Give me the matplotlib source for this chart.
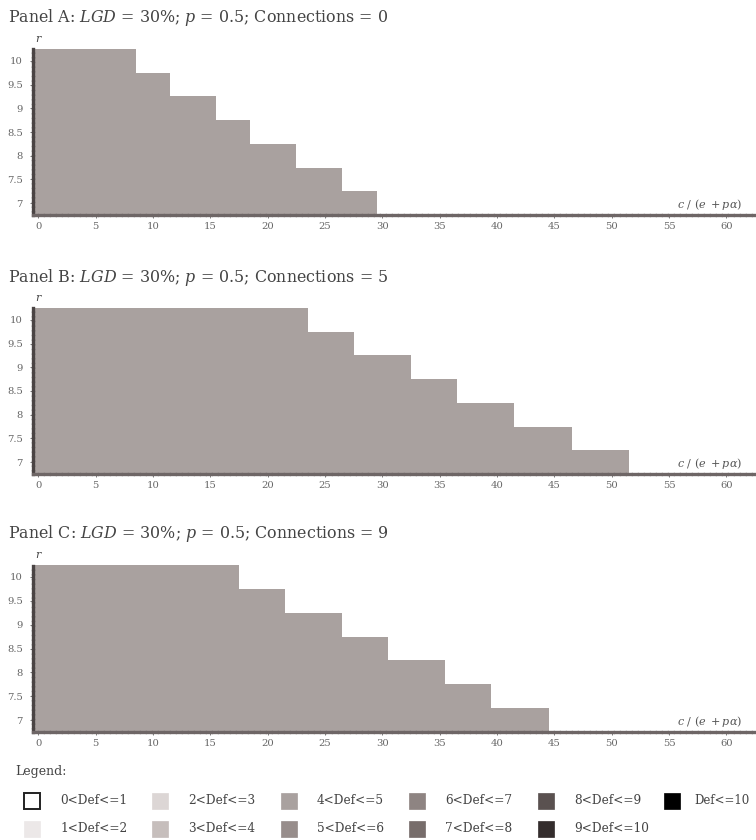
import numpy as np
import matplotlib
matplotlib.use("Agg")
import matplotlib.pyplot as plt
from matplotlib.colors import ListedColormap, BoundaryNorm
from matplotlib.patches import Rectangle

plt.rcParams["font.family"] = ["DejaVu Serif", "Liberation Serif"]
plt.rcParams["mathtext.fontset"] = "dejavuserif"

# Grid of the simulation: r levels and c/(e+p*alpha) values
r_levels = [10, 9.5, 9, 8.5, 8, 7.5, 7]
x_values = np.arange(0, 63)

# Last x value (per r level, top to bottom) where contagion reaches the filled class
panel_titles = [
    r"Panel A: $LGD$ = 30%; $p$ = 0.5; Connections = 0",
    r"Panel B: $LGD$ = 30%; $p$ = 0.5; Connections = 5",
    r"Panel C: $LGD$ = 30%; $p$ = 0.5; Connections = 9",
]
cutoff_A = [8, 11, 15, 18, 22, 26, 29]
cutoff_B = [23, 27, 32, 36, 41, 46, 51]
cutoff_C = [17, 21, 26, 30, 35, 39, 44]
panel_cutoffs = [cutoff_A, cutoff_B, cutoff_C]

# Default classes: index of the class inside / outside the stepped region
inside_class = 4
outside_class = 0

class_labels = ["0<Def<=1", "1<Def<=2", "2<Def<=3", "3<Def<=4", "4<Def<=5",
                "5<Def<=6", "6<Def<=7", "7<Def<=8", "8<Def<=9", "9<Def<=10",
                "Def<=10"]
class_colors = ["#ffffff", "#ece8e8", "#dcd6d5", "#c6bebc", "#a9a19f",
                "#978d8b", "#8e8482", "#776d6b", "#5a5150", "#342d2d",
                "#000000"]

cmap = ListedColormap(class_colors)
norm = BoundaryNorm(np.arange(-0.5, len(class_colors) + 0.5, 1), cmap.N)

W, H = 756, 840
fig = plt.figure(figsize=(W / 100, H / 100), dpi=100)

def px_axes(left, top, right, bottom):
    return fig.add_axes([left / W, 1 - bottom / H, (right - left) / W, (bottom - top) / H])

axes_px = [(32.5, 49, 760, 215), (32.5, 308, 760, 474), (32.5, 565, 760, 732)]
title_y = [17, 277, 533]

x_edges = np.arange(-0.5, x_values[-1] + 1.5, 1)
r_sorted = sorted(r_levels)
r_edges = np.array([r_sorted[0] - 0.25] + [v + 0.25 for v in r_sorted])

for (l, t, r, b), ty, title, cut in zip(axes_px, title_y, panel_titles, panel_cutoffs):
    ax = px_axes(l, t, r, b)
    grid = np.full((len(r_sorted), len(x_values)), outside_class)
    for lvl, last in zip(r_levels, cut):
        row = r_sorted.index(lvl)
        grid[row, x_values <= last] = inside_class
    ax.pcolormesh(x_edges, r_edges, grid, cmap=cmap, norm=norm, shading="flat")
    ax.set_xlim(-0.5, -0.5 + (r - l) / 11.47)
    ax.set_ylim(r_edges[0], r_edges[-1])
    ax.set_xticks(np.arange(0, 61, 5))
    ax.set_yticks(r_sorted)
    ax.set_yticklabels([f"{v:g}" for v in r_sorted])
    for s in ("top", "right"):
        ax.spines[s].set_visible(False)
    ax.spines["left"].set_linestyle((0, (0.8, 0.6)))
    ax.spines["left"].set_linewidth(2.4)
    ax.spines["left"].set_color("#4a4444")
    ax.spines["bottom"].set_linestyle((0, (1.1, 0.7)))
    ax.spines["bottom"].set_linewidth(2.4)
    ax.spines["bottom"].set_color("#6e6666")
    ax.tick_params(axis="both", labelsize=7.2, colors="#666666", length=2, width=0.6, pad=2)
    ax.tick_params(axis="x", pad=3)
    ax.tick_params(axis="y", pad=5)
    fig.text(8 / W, 1 - ty / H, title, fontsize=11.4, color="#444444", va="center", ha="left")
    ax.text(0.0, r_edges[-1] + 0.1, "r", fontsize=8, style="italic", color="#444444",
            ha="center", va="bottom", clip_on=False)
    ax.text(61.4, 6.97, r"$c\ /\ (e\ +p\alpha)$", fontsize=8, color="#555555",
            ha="right", va="center")

# Legend block
leg = fig.add_axes([0, 0, 1, 1], facecolor="none")
leg.set_xlim(0, W)
leg.set_ylim(H, 0)
leg.axis("off")
leg.text(15, 772, "Legend:", fontsize=9, color="#444444", va="center", ha="left")
col_x = [32, 160, 289, 417, 546, 672]
row_y = [801, 829]
for i, (lab, col) in enumerate(zip(class_labels, class_colors)):
    cx = col_x[i // 2]
    cy = row_y[i % 2]
    edge = "#222222" if i == 0 else col
    last_col = i // 2 == len(col_x) - 1
    leg.add_patch(Rectangle((cx - 8, cy - 8), 16, 16, facecolor=col, edgecolor=edge,
                            linewidth=1.4 if i == 0 else 0.5))
    leg.text(cx + (22 if last_col else 28), cy, lab, fontsize=8.5 if last_col else 8.7,
             color="#444444", va="center", ha="left")

fig.savefig("out.png", dpi=100)
